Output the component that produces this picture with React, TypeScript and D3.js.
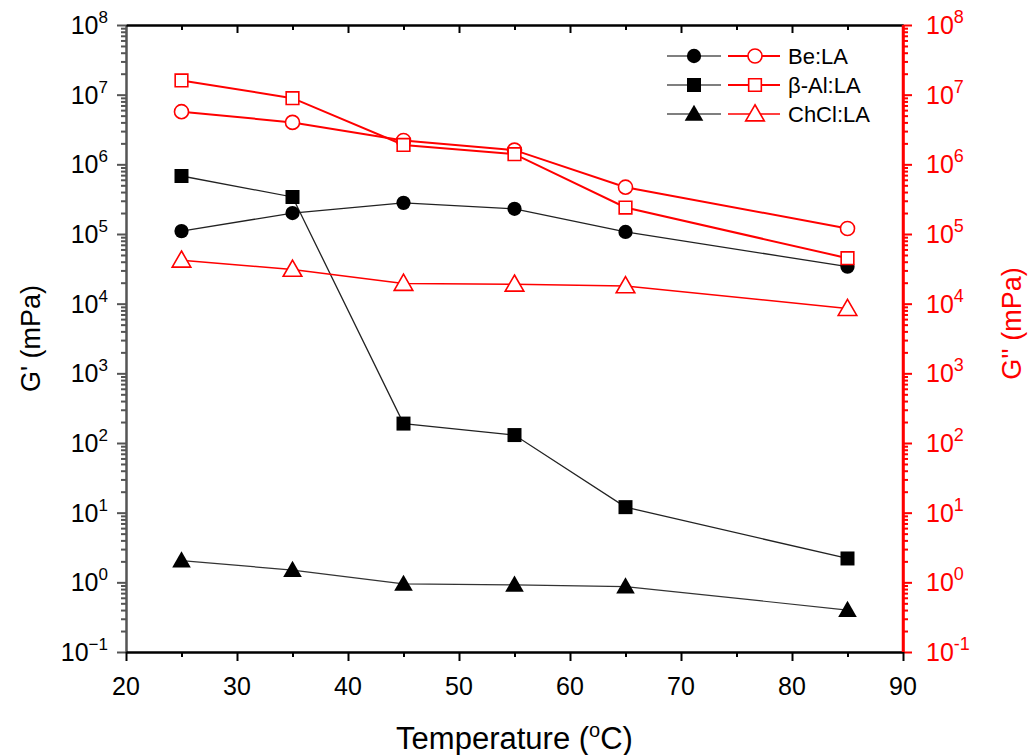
import React, { useEffect, useRef } from 'react';
import * as d3 from 'd3';

// temperatures (°C) and moduli (mPa)
const temps = [25, 35, 45, 55, 65, 85];
const beStorage = [1.1e5, 2.0e5, 2.8e5, 2.3e5, 1.07e5, 3.4e4];
const alStorage = [6.8e5, 3.4e5, 190, 130, 12, 2.2];
const chclStorage = [2.05, 1.5, 0.95, 0.92, 0.87, 0.4];
const beLoss = [5.7e6, 4.0e6, 2.2e6, 1.6e6, 4.7e5, 1.2e5];
const alLoss = [1.6e7, 8.9e6, 1.9e6, 1.4e6, 2.4e5, 4.5e4];
const chclLoss = [4.2e4, 3.1e4, 1.95e4, 1.9e4, 1.8e4, 8.5e3];

const xTicks = [20, 30, 40, 50, 60, 70, 80, 90];
const xMinor = [25, 35, 45, 55, 65, 75, 85];
const decades = [-1, 0, 1, 2, 3, 4, 5, 6, 7, 8];
const legendLabels = ['Be:LA', 'β-Al:LA', 'ChCl:LA'];

const FONT = '"Liberation Sans", Arial, Helvetica, sans-serif';
const RED = '#ff0000';

const App = () => {
  const ref = useRef<SVGSVGElement>(null);

  useEffect(() => {
    const svg = d3.select(ref.current);
    svg.selectAll('*').remove();

    const width = 1032;
    const height = 755;
    const margin = { top: 25, right: 129, bottom: 103, left: 126 };
    const x0 = margin.left;
    const x1 = width - margin.right;
    const y0 = height - margin.bottom;
    const y1 = margin.top;

    svg.attr('width', width).attr('height', height).style('font-family', FONT);
    svg.append('rect').attr('width', width).attr('height', height).attr('fill', '#fff');

    const x = d3.scaleLinear().domain([20, 90]).range([x0, x1]);
    const y = d3.scaleLog().domain([1e-1, 1e8]).range([y0, y1]);

    const majors = decades.map(d => Math.pow(10, d));
    const minors: number[] = [];
    decades.slice(0, -1).forEach(d => {
      for (let k = 2; k <= 9; k++) minors.push(k * Math.pow(10, d));
    });

    const styleAxis = (g: any, color: string, width = 2) => {
      g.select('.domain').attr('stroke', color).attr('stroke-width', width);
      g.selectAll('.tick line').attr('stroke', color).attr('stroke-width', width);
      g.selectAll('.tick text').remove();
    };

    // left axis
    const gl = svg.append('g').attr('transform', `translate(${x0},0)`);
    gl.append('g').call(d3.axisLeft(y).tickValues(minors).tickSize(5).tickSizeOuter(0)).call(styleAxis, '#555');
    gl.append('g').call(d3.axisLeft(y).tickValues(majors).tickSize(9).tickSizeOuter(0)).call(styleAxis, '#555');

    // right axis (red)
    const gr = svg.append('g').attr('transform', `translate(${x1},0)`);
    gr.append('g').call(d3.axisRight(y).tickValues(minors).tickSize(5).tickSizeOuter(0)).call(styleAxis, RED);
    gr.append('g').call(d3.axisRight(y).tickValues(majors).tickSize(9).tickSizeOuter(0)).call(styleAxis, RED);

    // bottom axis
    const gb = svg.append('g').attr('transform', `translate(0,${y0})`);
    gb.append('g').call(d3.axisBottom(x).tickValues(xMinor).tickSize(5).tickSizeOuter(0)).call(styleAxis, '#000');
    gb.append('g').call(d3.axisBottom(x).tickValues(xTicks).tickSize(9).tickSizeOuter(0)).call(styleAxis, '#000');

    // top axis, ticks inward
    const gt = svg.append('g').attr('transform', `translate(0,${y1})`);
    gt.append('g').call(d3.axisTop(x).tickValues(xMinor).tickSize(-5).tickSizeOuter(0)).call(styleAxis, '#000');
    gt.append('g').call(d3.axisTop(x).tickValues(xTicks.slice(1, -1)).tickSize(-8).tickSizeOuter(0)).call(styleAxis, '#000');

    // redraw right spine on top of the corners
    svg.append('line').attr('x1', x1).attr('x2', x1).attr('y1', y1).attr('y2', y0)
      .attr('stroke', RED).attr('stroke-width', 2.5);

    // tick labels
    const fs = 25;
    decades.forEach(d => {
      const t = svg.append('text')
        .attr('x', x0 - 18).attr('y', y(Math.pow(10, d)) + 9)
        .attr('text-anchor', 'end').attr('font-size', fs).attr('fill', '#000');
      t.append('tspan').text('10');
      t.append('tspan').attr('font-size', 17).attr('dy', -11).text(d < 0 ? '\u2212' + Math.abs(d) : String(d));

      const r = svg.append('text')
        .attr('x', x1 + 23).attr('y', y(Math.pow(10, d)) + 9)
        .attr('text-anchor', 'start').attr('font-size', fs).attr('fill', RED);
      r.append('tspan').text('10');
      r.append('tspan').attr('font-size', 18).attr('dy', -11).text(String(d));
    });

    xTicks.forEach(v => {
      svg.append('text')
        .attr('x', x(v)).attr('y', y0 + 43)
        .attr('text-anchor', 'middle').attr('font-size', fs).attr('fill', '#000')
        .text(v);
    });

    // axis titles
    const xt = svg.append('text')
      .attr('x', (x0 + x1) / 2).attr('y', 749)
      .attr('text-anchor', 'middle').attr('font-size', 31).attr('fill', '#000');
    xt.append('tspan').text('Temperature (');
    xt.append('tspan').attr('font-size', 20).attr('dy', -12).text('o');
    xt.append('tspan').attr('dy', 12).text('C)');

    svg.append('text')
      .attr('transform', `translate(40,${(y0 + y1) / 2}) rotate(-90)`)
      .attr('text-anchor', 'middle').attr('font-size', 27).attr('fill', '#000')
      .text("G' (mPa)");

    svg.append('text')
      .attr('transform', `translate(1021,${(y0 + y1) / 2 - 15}) rotate(-90)`)
      .attr('text-anchor', 'middle').attr('font-size', 27).attr('fill', RED)
      .text("G'' (mPa)");

    // series
    const series = [
      { values: beStorage, color: '#222', lw: 1.3, shape: d3.symbolCircle, size: 160, filled: true },
      { values: alStorage, color: '#222', lw: 1.3, shape: d3.symbolSquare, size: 196, filled: true },
      { values: chclStorage, color: '#333', lw: 1.2, shape: d3.symbolTriangle, size: 150, filled: true },
      { values: beLoss, color: RED, lw: 2, shape: d3.symbolCircle, size: 155, filled: false },
      { values: alLoss, color: RED, lw: 2, shape: d3.symbolSquare, size: 160, filled: false },
      { values: chclLoss, color: RED, lw: 1.5, shape: d3.symbolTriangle, size: 150, filled: false },
    ];

    const line = d3.line<number>()
      .x((_, i) => x(temps[i]))
      .y(v => y(v));

    series.forEach(s => {
      svg.append('path')
        .attr('d', line(s.values))
        .attr('fill', 'none')
        .attr('stroke', s.color)
        .attr('stroke-width', s.lw);
    });

    series.forEach(s => {
      svg.append('g').selectAll('path')
        .data(s.values)
        .enter().append('path')
        .attr('transform', (v, i) => `translate(${x(temps[i])},${y(v) + (s.shape === d3.symbolTriangle ? 1.5 : 0)})`)
        .attr('d', d3.symbol(s.shape, s.size)())
        .attr('fill', s.filled ? '#000' : '#fff')
        .attr('stroke', s.filled ? 'none' : RED)
        .attr('stroke-width', 1.6);
    });

    // legend
    const lg = svg.append('g');
    lg.append('rect').attr('x', 660).attr('y', 38).attr('width', 222).attr('height', 92).attr('fill', '#fff');
    const rowY = [56, 85, 114];
    legendLabels.forEach((label, i) => {
      const yy = rowY[i];
      const black = series[i];
      const red = series[i + 3];
      lg.append('line').attr('x1', 667).attr('x2', 721).attr('y1', yy).attr('y2', yy)
        .attr('stroke', '#555').attr('stroke-width', 1.3);
      lg.append('path').attr('transform', `translate(694,${yy + (i === 2 ? 1.5 : 0)})`)
        .attr('d', d3.symbol(black.shape, black.size)()).attr('fill', '#000');
      lg.append('line').attr('x1', 728).attr('x2', 780).attr('y1', yy).attr('y2', yy)
        .attr('stroke', RED).attr('stroke-width', i === 2 ? 1.5 : 2);
      lg.append('path').attr('transform', `translate(755,${yy + (i === 2 ? 1.5 : 0)})`)
        .attr('d', d3.symbol(red.shape, red.size)()).attr('fill', '#fff')
        .attr('stroke', RED).attr('stroke-width', 1.6);
      lg.append('text').attr('x', 788).attr('y', yy + 8)
        .attr('font-size', 22).attr('fill', '#000').text(label);
    });
  }, []);

  return (
    <div style={{ position: 'absolute', left: 0, top: 0 }}>
      <svg ref={ref}></svg>
    </div>
  );
};

export default App;
